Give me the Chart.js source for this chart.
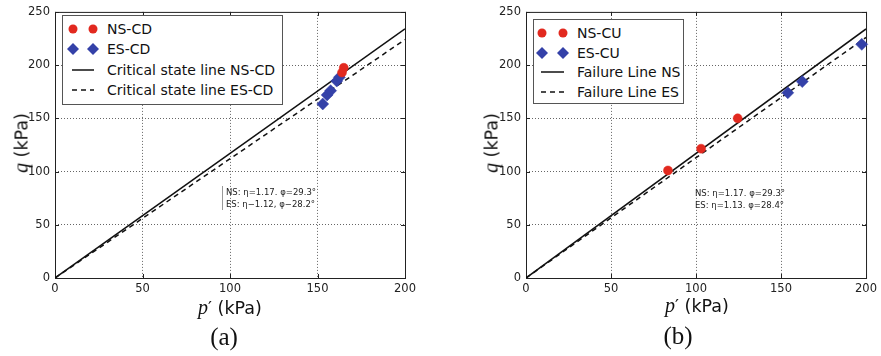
<!DOCTYPE html>
<html>
<head>
<meta charset="utf-8">
<script src="https://cdn.jsdelivr.net/npm/chart.js@4/dist/chart.umd.min.js"></script>
<style>
  body { margin: 0; background: #fff; width: 881px; height: 356px; position: relative; overflow: hidden;
         font-family: "DejaVu Sans", sans-serif; color: #222; }
  .panel { position: absolute; top: 0; height: 300px; }
  .panel canvas { position: absolute; left: 0; top: 0; }
  .legend { position: absolute; border: 1px solid #555; background: #fff; box-sizing: border-box; }
  .legend .row { position: absolute; left: 0; right: 0; height: 20px; }
  .legend svg { position: absolute; left: 0; top: 0; }
  .legend span { position: absolute; top: 0px; font-size: 14px; line-height: 20px; white-space: nowrap; color: #111; }
  .note { position: absolute; font-size: 8.5px; line-height: 12px; white-space: nowrap; color: #222; }
  .note.bar { border-left: 1px solid #999; padding-left: 3px; }
  .xtitle, .ytitle { position: absolute; font-size: 17.5px; white-space: nowrap; color: #111; }
  .ytitle { transform: translate(-50%, -50%) rotate(-90deg); }
  .xtitle { transform: translate(-50%, -50%); }
  .math { font-family: "Liberation Serif", serif; font-style: italic; font-size: 20px; }
  .caption { position: absolute; font-family: "Liberation Serif", serif; font-size: 25px; transform: translate(-50%, -50%); color: #111; }
</style>
</head>
<body>

<div class="panel" id="panelA" style="left:0;width:440px"><canvas id="chartA" width="440" height="300"></canvas></div>
<div class="panel" id="panelB" style="left:440px;width:441px"><canvas id="chartB" width="441" height="300"></canvas></div>

<div class="ytitle" style="left:21px;top:143px"><span class="math">q</span> (kPa)</div>
<div class="ytitle" style="left:491px;top:143px"><span class="math">q</span> (kPa)</div>
<div class="xtitle" style="left:230px;top:307px"><span class="math">p</span>′ (kPa)</div>
<div class="xtitle" style="left:697px;top:305px"><span class="math">p</span>′ (kPa)</div>
<div class="caption" style="left:224px;top:337px">(a)</div>
<div class="caption" style="left:678px;top:336px">(b)</div>

<div class="note bar" style="left:222px;top:186px">NS: η=1.17. φ=29.3°<br>ES: η−1.12, φ−28.2°</div>
<div class="note" style="left:695px;top:187px">NS: η=1.17. φ=29.3°<br>ES: η=1.13. φ=28.4°</div>

<script>
const xTicks = [0, 50, 100, 150, 200];
const yTicks = [0, 50, 100, 150, 200, 250];
const lineP = [0, 200];

// (a) drained tests
const nsCdP = [165, 164];
const nsCdQ = [197.5, 193];
const esCdP = [153, 155.5, 157.5, 161, 162.5];
const esCdQ = [163.5, 172, 176, 185, 188.5];
const nsCslQ = [0, 234];
const esCslQ = [0, 224];

// (b) undrained tests
const nsCuP = [83.5, 103, 124.5];
const nsCuQ = [101, 121.5, 150];
const esCuP = [154, 162.5, 197.5];
const esCuQ = [174, 184.5, 219.5];
const nsFailQ = [0, 234];
const esFailQ = [0, 226];

const RED = '#e2291f';
const BLUE = '#3441a8';

const pts = (px, qs) => px.map((p, i) => ({ x: p, y: qs[i] }));

function pointSet(label, px, qs, color, style) {
  return {
    label, data: pts(px, qs), pointStyle: style,
    pointRadius: style === 'rectRot' ? 6 : 4.5,
    backgroundColor: color, borderColor: color, borderWidth: 0.5,
    showLine: false, clip: false
  };
}

function lineSet(label, qs, dashed) {
  return {
    label, data: pts(lineP, qs), showLine: true, pointRadius: 0,
    borderColor: '#111', borderWidth: 1.5, borderDash: dashed ? [5, 4] : [],
    dashed
  };
}

// box around the plot plus matplotlib-style inward ticks
const framePlugin = {
  id: 'frame',
  beforeDatasetsDraw(chart) {
    const { ctx, chartArea: a, scales: { x, y } } = chart;
    ctx.save();
    ctx.strokeStyle = '#222';
    ctx.lineWidth = 1;
    ctx.strokeRect(a.left + 0.5, a.top + 0.5, a.right - a.left, a.bottom - a.top);
    ctx.beginPath();
    x.ticks.forEach(t => {
      const px = Math.round(x.getPixelForValue(t.value)) + 0.5;
      ctx.moveTo(px, a.bottom); ctx.lineTo(px, a.bottom - 4);
      ctx.moveTo(px, a.top); ctx.lineTo(px, a.top + 4);
    });
    y.ticks.forEach(t => {
      const py = Math.round(y.getPixelForValue(t.value)) + 0.5;
      ctx.moveTo(a.left, py); ctx.lineTo(a.left + 4, py);
      ctx.moveTo(a.right, py); ctx.lineTo(a.right - 4, py);
    });
    ctx.stroke();
    ctx.restore();
  }
};

function gridColor(ctx, last) {
  const v = ctx.tick ? ctx.tick.value : 0;
  return (v === 0 || v === last) ? 'rgba(0,0,0,0)' : '#666';
}

function makeChart(id, datasets, yWidth, padRight) {
  return new Chart(document.getElementById(id), {
    type: 'scatter',
    data: { datasets },
    plugins: [framePlugin],
    options: {
      responsive: false,
      animation: false,
      devicePixelRatio: 1,
      layout: { padding: { top: 10, right: padRight, bottom: 0, left: 0 } },
      plugins: { legend: { display: false }, tooltip: { enabled: false } },
      scales: {
        x: {
          type: 'linear', min: 0, max: 200,
          afterBuildTicks: s => { s.ticks = xTicks.map(v => ({ value: v })); },
          afterFit: s => { s.height = 22; },
          grid: { color: c => gridColor(c, 200), drawTicks: false, lineWidth: 1 },
          border: { display: false, dash: [1, 2] },
          ticks: { color: '#222', font: { family: 'DejaVu Sans', size: 11.5 }, padding: 4, maxRotation: 0 }
        },
        y: {
          type: 'linear', min: 0, max: 250,
          afterBuildTicks: s => { s.ticks = yTicks.map(v => ({ value: v })); },
          afterFit: s => { s.width = yWidth; },
          grid: { color: c => gridColor(c, 250), drawTicks: false, lineWidth: 1 },
          border: { display: false, dash: [1, 2] },
          ticks: { color: '#222', font: { family: 'DejaVu Sans', size: 11.5 }, padding: 5 }
        }
      }
    }
  });
}

const chartA = makeChart('chartA', [
  pointSet('NS-CD', nsCdP, nsCdQ, RED, 'circle'),
  pointSet('ES-CD', esCdP, esCdQ, BLUE, 'rectRot'),
  lineSet('Critical state line NS-CD', nsCslQ, false),
  lineSet('Critical state line ES-CD', esCslQ, true)
], 55, 35);

const chartB = makeChart('chartB', [
  pointSet('NS-CU', nsCuP, nsCuQ, RED, 'circle'),
  pointSet('ES-CU', esCuP, esCuQ, BLUE, 'rectRot'),
  lineSet('Failure Line NS', nsFailQ, false),
  lineSet('Failure Line ES', esFailQ, true)
], 86, 14);

// legend box built from the chart's own datasets
function buildLegend(chart, box) {
  const el = document.createElement('div');
  el.className = 'legend';
  Object.assign(el.style, { left: box.left + 'px', top: box.top + 'px', width: box.width + 'px', height: box.height + 'px' });
  const NS = 'http://www.w3.org/2000/svg';
  chart.data.datasets.forEach((ds, i) => {
    const row = document.createElement('div');
    row.className = 'row';
    row.style.top = (box.first + i * box.step - 10) + 'px';
    const svg = document.createElementNS(NS, 'svg');
    svg.setAttribute('width', '40'); svg.setAttribute('height', '20');
    if (ds.showLine) {
      const ln = document.createElementNS(NS, 'line');
      ln.setAttribute('x1', box.mx[0] - 1); ln.setAttribute('x2', box.mx[1] + 1);
      ln.setAttribute('y1', 10); ln.setAttribute('y2', 10);
      ln.setAttribute('stroke', ds.borderColor); ln.setAttribute('stroke-width', 1.5);
      if (ds.dashed) ln.setAttribute('stroke-dasharray', '5,4');
      svg.appendChild(ln);
    } else {
      box.mx.forEach(cx => {
        let m;
        if (ds.pointStyle === 'circle') {
          m = document.createElementNS(NS, 'circle');
          m.setAttribute('cx', cx); m.setAttribute('cy', 10); m.setAttribute('r', 4.5);
        } else {
          m = document.createElementNS(NS, 'polygon');
          const r = 6;
          m.setAttribute('points', `${cx},${10 - r} ${cx + r},10 ${cx},${10 + r} ${cx - r},10`);
        }
        m.setAttribute('fill', ds.backgroundColor);
        svg.appendChild(m);
      });
    }
    row.appendChild(svg);
    const t = document.createElement('span');
    t.style.left = box.tx + 'px';
    t.textContent = ds.label;
    row.appendChild(t);
    el.appendChild(row);
  });
  document.body.appendChild(el);
}

buildLegend(chartA, { left: 62, top: 15, width: 221, height: 90, first: 13, step: 20.4, mx: [10, 30], tx: 44 });
buildLegend(chartB, { left: 533, top: 19, width: 151, height: 85, first: 13, step: 19.7, mx: [8, 29], tx: 43 });
</script>
</body>
</html>
